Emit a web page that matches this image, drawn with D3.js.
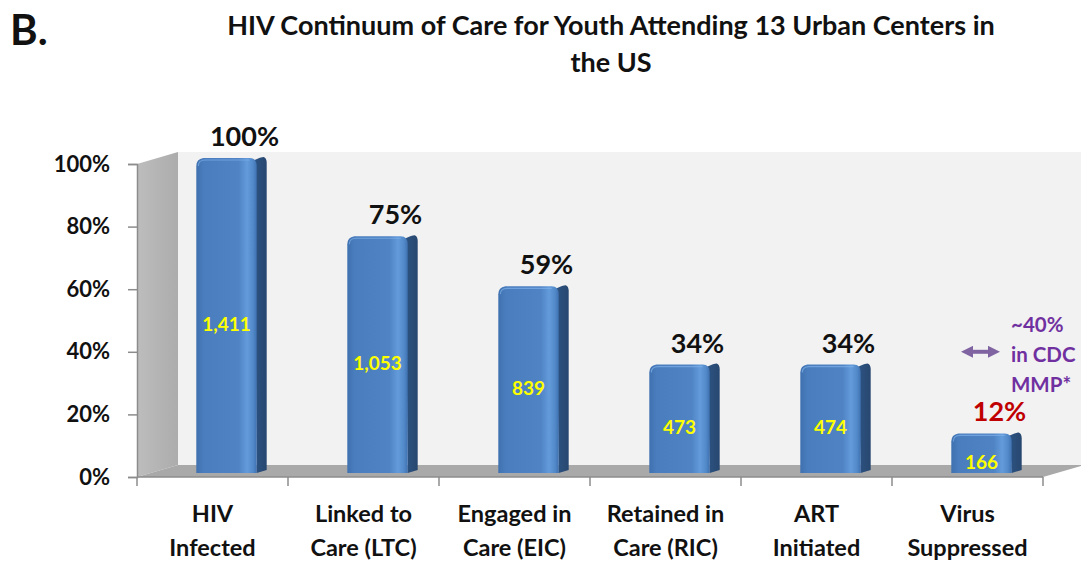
<!DOCTYPE html>
<html>
<head>
<meta charset="utf-8">
<script src="https://cdn.jsdelivr.net/npm/d3@7"></script>
<style>
  html, body { margin: 0; padding: 0; background: #ffffff; }
  svg { display: block; }
  text { font-family: Lato, "Open Sans", "Liberation Sans", sans-serif; font-weight: bold; }
</style>
</head>
<body>
<svg id="chart" width="1081" height="566"></svg>
<script>
// ---- data ----
const categories = [
  ["HIV", "Infected"],
  ["Linked to", "Care (LTC)"],
  ["Engaged in", "Care (EIC)"],
  ["Retained in", "Care (RIC)"],
  ["ART", "Initiated"],
  ["Virus", "Suppressed"]
];
const percentValues = [1.00, 0.75, 0.59, 0.34, 0.34, 0.12];
const percentLabels = ["100%", "75%", "59%", "34%", "34%", "12%"];
const counts = ["1,411", "1,053", "839", "473", "474", "166"];
const yTicks = [0, 0.2, 0.4, 0.6, 0.8, 1.0];
const cdcValue = 0.40;
const cdcLines = ["~40%", "in CDC", "MMP*"];
const titleLines = ["HIV Continuum of Care for Youth Attending 13 Urban Centers in", "the US"];

// ---- layout ----
const svg = d3.select("#chart");
const x0 = 137, x1 = 1043, yBottom = 477, yTop = 164;
const depthX = 41, depthY = -12;      // 3D depth vector
const barShiftX = 14, barShiftY = -5; // bars sit partway into the depth

const x = d3.scaleBand().domain(d3.range(categories.length)).range([x0, x1]).paddingInner(0).paddingOuter(0);
const y = d3.scaleLinear().domain([0, 1]).range([yBottom, yTop]);

const defs = svg.append("defs");
const gFront = defs.append("linearGradient").attr("id", "barFront").attr("x1", 0).attr("x2", 1).attr("y1", 0).attr("y2", 0);
[["0%", "#3f71b0"], ["12%", "#4a7dbd"], ["70%", "#4f83c4"], ["84%", "#639bdb"], ["94%", "#5289c9"], ["100%", "#3f71b0"]]
  .forEach(([o, c]) => gFront.append("stop").attr("offset", o).attr("stop-color", c));
const gSide = defs.append("linearGradient").attr("id", "barSide").attr("x1", 0).attr("x2", 1).attr("y1", 0).attr("y2", 0);
[["0%", "#2d5382"], ["100%", "#27476f"]].forEach(([o, c]) => gSide.append("stop").attr("offset", o).attr("stop-color", c));
const gWall = defs.append("linearGradient").attr("id", "leftWall").attr("x1", 0).attr("x2", 1).attr("y1", 0).attr("y2", 0);
[["0%", "#bdbdbd"], ["100%", "#acacac"]].forEach(([o, c]) => gWall.append("stop").attr("offset", o).attr("stop-color", c));

// back wall
svg.append("rect")
  .attr("x", x0 + depthX).attr("y", y(1) + depthY)
  .attr("width", 1081 - (x0 + depthX)).attr("height", y(0) - y(1))
  .attr("fill", "#f2f2f2");

// left wall
svg.append("path")
  .attr("d", `M${x0},${y(1)} L${x0 + depthX},${y(1) + depthY} L${x0 + depthX},${y(0) + depthY} L${x0},${y(0)} Z`)
  .attr("fill", "url(#leftWall)");

// floor
svg.append("path")
  .attr("d", `M${x0},${y(0)} L${x0 + depthX},${y(0) + depthY} L${x1 + depthX},${y(0) + depthY} L${x1},${y(0)} Z`)
  .attr("fill", "#a9a9a9");

// axes
const axisColor = "#8c8c8c";
const yAxis = d3.axisLeft(y).tickValues(yTicks).tickFormat(d3.format(".0%")).tickSize(9).tickPadding(18);
const yg = svg.append("g").attr("transform", `translate(${x0},0)`).call(yAxis);
yg.select(".domain").attr("stroke", axisColor).attr("stroke-width", 1.5);
yg.selectAll(".tick line").attr("stroke", axisColor).attr("stroke-width", 1.5);
yg.selectAll(".tick text").attr("font-size", 22).attr("fill", "#111").attr("font-family", "Lato, sans-serif").attr("font-weight", "bold");

const bounds = d3.range(categories.length + 1).map(i => x0 + i * x.bandwidth());
svg.append("line").attr("x1", x0).attr("x2", x1).attr("y1", y(0)).attr("y2", y(0))
  .attr("stroke", axisColor).attr("stroke-width", 1.5);
svg.selectAll(".xtick").data(bounds).enter().append("line")
  .attr("x1", d => d).attr("x2", d => d).attr("y1", y(0)).attr("y2", y(0) + 9)
  .attr("stroke", axisColor).attr("stroke-width", 1.5);

// bars
const barW = x.bandwidth() * 0.4;
const sideW = 10, sideRise = 3, r = 7;
const bars = svg.append("g");
percentValues.forEach((v, i) => {
  const left = x(i) + (x.bandwidth() - barW) / 2 + barShiftX;
  const right = left + barW;
  const top = y(v) + barShiftY;
  const bot = y(0) + barShiftY + 1;
  // side face
  bars.append("path")
    .attr("d", `M${right - 2},${top + 1} Q${right + 4},${top - 2} ${right + sideW - 3},${top - sideRise + 1} Q${right + sideW},${top - sideRise + 2} ${right + sideW},${top - sideRise + r}
      L${right + sideW},${bot - sideRise} L${right},${bot} Z`)
    .attr("fill", "url(#barSide)");
  // front face with rounded top
  bars.append("path")
    .attr("d", `M${left},${bot} L${left},${top + r} Q${left},${top} ${left + r},${top - 1}
      L${right - r},${top - 1} Q${right},${top - 1} ${right},${top + r} L${right},${bot} Z`)
    .attr("fill", "url(#barFront)");
  // top highlight
  bars.append("path")
    .attr("d", `M${left + 2},${top + r} Q${left + 2},${top + 1} ${left + r + 2},${top + 1} L${right - r},${top + 1}`)
    .attr("fill", "none").attr("stroke", "#7fb0e8").attr("stroke-width", 1.2).attr("opacity", 0.7);

  // count label
  svg.append("text")
    .attr("x", (left + right) / 2)
    .attr("y", (top + bot) / 2 + 10)
    .attr("text-anchor", "middle").attr("dominant-baseline", "middle")
    .attr("font-size", 19).attr("fill", "#ffff00")
    .text(counts[i]);

  // percent label
  svg.append("text")
    .attr("x", (left + right) / 2 + 18)
    .attr("y", top - 13)
    .attr("text-anchor", "middle")
    .attr("font-size", 27)
    .attr("fill", i === percentValues.length - 1 ? "#c00000" : "#111")
    .text(percentLabels[i]);
});

// category labels
categories.forEach((lines, i) => {
  const t = svg.append("text")
    .attr("x", x(i) + x.bandwidth() / 2)
    .attr("y", 522)
    .attr("text-anchor", "middle")
    .attr("font-size", 23.5).attr("fill", "#111");
  lines.forEach((l, j) => t.append("tspan").attr("x", x(i) + x.bandwidth() / 2).attr("dy", j === 0 ? 0 : 34).text(l));
});

// CDC MMP annotation
const arrowY = y(cdcValue);
const ax0 = 963, ax1 = 998;
defs.append("marker").attr("id", "ah").attr("viewBox", "0 0 10 10").attr("refX", 5).attr("refY", 5)
  .attr("markerWidth", 3).attr("markerHeight", 3).attr("orient", "auto-start-reverse")
  .append("path").attr("d", "M0,0 L10,5 L0,10 Z").attr("fill", "#8064a2");
svg.append("line").attr("x1", ax0 + 4).attr("x2", ax1 - 4).attr("y1", arrowY).attr("y2", arrowY)
  .attr("stroke", "#8064a2").attr("stroke-width", 4)
  .attr("marker-start", "url(#ah)").attr("marker-end", "url(#ah)");
const ct = svg.append("text").attr("x", 1011).attr("y", arrowY - 20).attr("font-size", 20.5).attr("fill", "#7030a0");
cdcLines.forEach((l, j) => ct.append("tspan").attr("x", 1011).attr("dy", j === 0 ? 0 : 30).text(l));

// titles
svg.append("text").attr("x", 10).attr("y", 45).attr("font-size", 42).attr("fill", "#111").text("B.");
const tt = svg.append("text").attr("x", 611).attr("y", 35).attr("text-anchor", "middle").attr("font-size", 27).attr("fill", "#111");
titleLines.forEach((l, j) => tt.append("tspan").attr("x", 611).attr("dy", j === 0 ? 0 : 37).text(l));
</script>
</body>
</html>
